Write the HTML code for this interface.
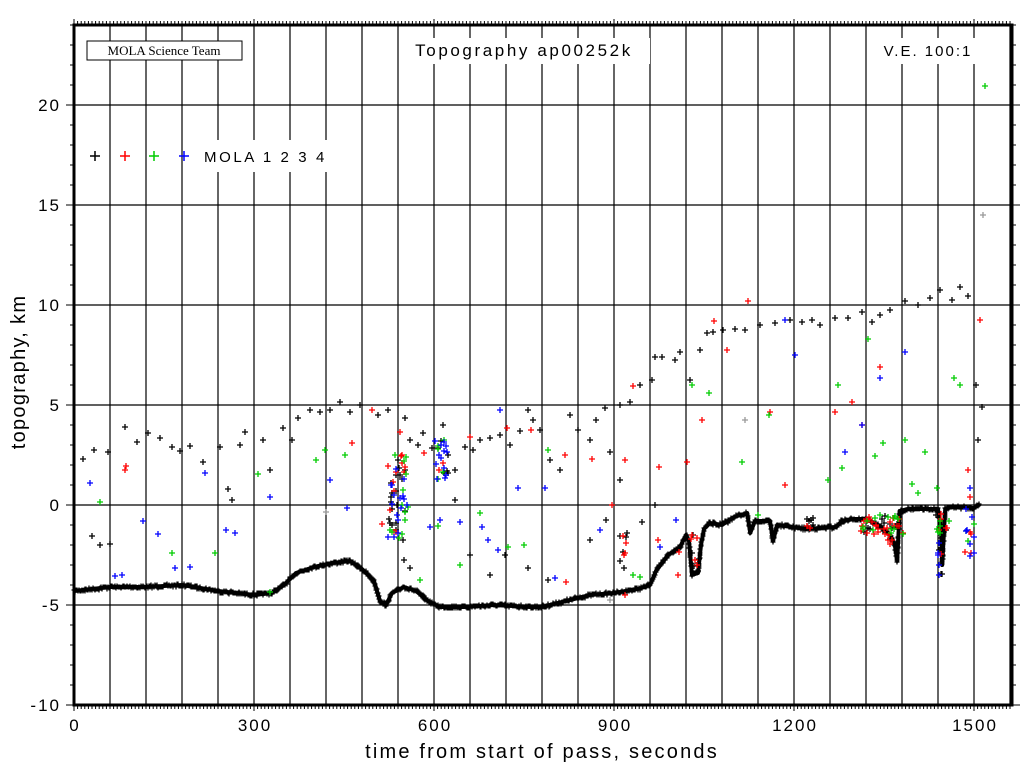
<!DOCTYPE html>
<html><head><meta charset="utf-8"><style>
body{margin:0;background:#fff;}
svg{display:block;font-family:"Liberation Sans",sans-serif;}
</style></head><body>
<svg id="s" width="1024" height="768" xmlns="http://www.w3.org/2000/svg">
<rect width="1024" height="768" fill="#fff"/>
<g id="grid" stroke="#000" stroke-width="1.2"></g>
<g id="prof"></g>
<g id="pts" stroke-width="1.3"></g>
<rect x="87" y="41" width="155" height="19" fill="#fff" stroke="#000" stroke-width="1"/>
<text x="164" y="55" font-family="Liberation Serif,serif" font-size="13" text-anchor="middle">MOLA Science Team</text>
<rect x="400" y="38" width="250" height="26" fill="#fff"/>
<text x="524" y="56" font-size="17" text-anchor="middle" letter-spacing="2.6">Topography ap00252k</text>
<rect x="878" y="38" width="100" height="26" fill="#fff"/>
<text x="928" y="56" font-size="15" text-anchor="middle" letter-spacing="2">V.E. 100:1</text>
<rect x="195" y="140" width="140" height="32" fill="#fff"/>
<g stroke-width="1.5">
<path d="M90 156h10M95 151v10" stroke="#000"/>
<path d="M120 156h10M125 151v10" stroke="#f00"/>
<path d="M149 156h10M154 151v10" stroke="#0c0"/>
<path d="M179 156h10M184 151v10" stroke="#00f"/>
</g>
<text x="204" y="162" font-size="15" letter-spacing="2.6">MOLA 1 2 3 4</text>
<g id="axes" stroke="#000" fill="none"></g>
<g id="lab" font-size="17" letter-spacing="2"></g>
<text x="542" y="758" font-size="20" text-anchor="middle" letter-spacing="2.2">time from start of pass, seconds</text>
<text transform="translate(25,372) rotate(-90)" font-size="20" text-anchor="middle" letter-spacing="1.3">topography, km</text>
</svg>
<script>
const NS="http://www.w3.org/2000/svg";
function X(t){return 74+0.6*t} function Y(h){return 505-20*h}
function el(p,tag,a,txt){const e=document.createElementNS(NS,tag);for(const k in a)e.setAttribute(k,a[k]);if(txt!==undefined)e.textContent=txt;document.getElementById(p).appendChild(e);return e;}
let g="";
for(let t=60;t<1563;t+=60){g+=`M${X(t)} 25V705`;}
for(let h=-5;h<=20;h+=5){g+=`M74 ${Y(h)}H1012`;}
el("grid","path",{d:g,fill:"none"});
let a="M74 25H1012V705H74Z";
el("axes","path",{d:a,"stroke-width":"3"});
let tk="";
for(let t=0;t<1563;t+=6){const l=(t%300==0)?6:4;tk+=`M${X(t)} 25v-${l}M${X(t)} 705v${l}`;}
for(let h=-10;h<=24;h++){const l=(h%5==0)?8:4;tk+=`M74 ${Y(h)}h-${l}M1012 ${Y(h)}h${l}`;}
el("axes","path",{d:tk,"stroke-width":"1"});
for(let t=0;t<=1500;t+=300)el("lab","text",{x:X(t)+1,y:731,"text-anchor":"middle"},t);
for(let h=-10;h<=20;h+=5)el("lab","text",{x:61,y:Y(h)+6,"text-anchor":"end"},h);
const P=[[0,-4.3],[60,-4.1],[120,-4.1],[180,-4.0],[240,-4.3],[270,-4.4],[300,-4.5],[330,-4.4],[350,-4.0],[370,-3.4],[400,-3.1],[430,-2.9],[460,-2.8],[480,-3.2],[500,-3.8],[510,-4.8],[520,-5.0],[530,-4.4],[550,-4.1],[570,-4.3],[590,-4.8],[610,-5.1],[650,-5.1],[700,-5.0],[760,-5.1],[780,-5.1],[820,-4.8],[860,-4.5],[900,-4.4],[940,-4.2],[960,-4.0],[970,-3.3],[990,-2.5],[1010,-2.1],[1020,-1.5],[1025,-1.8],[1030,-3.5],[1040,-3.4],[1045,-2.0],[1050,-1.2],[1060,-0.9],[1080,-1.0],[1100,-0.6],[1122,-0.4],[1127,-1.4],[1135,-0.8],[1160,-0.8],[1165,-1.8],[1172,-1.0],[1220,-1.2],[1270,-1.1],[1280,-0.8],[1300,-0.7],[1320,-0.7],[1340,-1.0],[1360,-1.5],[1368,-2.0],[1372,-2.8],[1376,-0.3],[1390,-0.2],[1440,-0.2],[1445,-1.2],[1447,-3.0],[1452,-0.2],[1460,-0.1],[1500,-0.15],[1510,0.05]];
el("prof","polyline",{points:P.map(p=>X(p[0])+","+Y(p[1])).join(" "),fill:"none",stroke:"#000","stroke-width":"4","stroke-linejoin":"round"});
const C={k:"#000",r:"#f00",g:"#0c0",b:"#00f",y:"#999"};
let pd={k:"",r:"",g:"",b:"",y:""};
function cr(c,x,y,s){s=s||3;pd[c]+=`M${x-s} ${y}h${2*s}M${x} ${y-s}v${2*s}`;}
let seed=7;function R(){seed=(seed*16807)%2147483647;return seed/2147483647;}
// texture along profile
for(let i=0;i<P.length-1;i++){const [t0,h0]=P[i],[t1,h1]=P[i+1];const n=Math.max(2,Math.round((t1-t0)/1.5)+Math.round(Math.abs(h1-h0)*6));for(let j=0;j<n;j++){const f=j/n;cr("k",Math.round(X(t0+(t1-t0)*f)),Math.round(Y(h0+(h1-h0)*f)+(R()-0.5)*3),2.5);}}
const S={k:[[83,459],[94,450],[92,536],[100,545],[110,544],[108,452],[125,427],[137,442],[148,433],[160,438],[172,447],[180,451],[190,446],[203,462],[220,447],[228,489],[232,500],[245,432],[240,445],[263,440],[270,470],[283,428],[292,440],[298,418],[310,410],[320,412],[330,410],[340,402],[350,412],[360,405],[378,415],[388,410],[396,475],[405,418],[410,440],[418,445],[423,433],[432,448],[443,425],[448,455],[455,470],[465,447],[473,450],[480,440],[490,438],[500,435],[510,445],[520,431],[528,410],[533,420],[540,430],[550,460],[560,470],[570,415],[578,430],[590,440],[596,420],[605,408],[620,405],[630,402],[640,385],[652,380],[655,357],[662,357],[675,360],[680,352],[690,380],[700,350],[707,333],[713,332],[723,330],[735,329],[745,330],[760,325],[775,323],[790,320],[802,322],[812,320],[820,325],[835,318],[848,318],[862,312],[872,322],[880,315],[890,310],[905,301],[918,305],[930,298],[940,290],[952,300],[960,287],[968,296],[976,385],[978,440],[982,407],[396,530],[404,560],[410,568],[455,500],[470,555],[490,575],[505,555],[528,568],[548,580],[590,540],[606,520],[642,522],[655,505],[610,452],[620,480]],
r:[[126,466],[125,470],[372,410],[352,443],[382,524],[390,510],[400,432],[424,453],[470,437],[507,428],[531,430],[565,455],[566,582],[592,459],[625,460],[633,386],[659,467],[679,552],[687,462],[702,420],[714,321],[727,350],[748,301],[770,412],[785,485],[835,412],[852,402],[862,425],[880,367],[980,320],[970,497],[968,470],[612,505],[658,540],[678,575],[695,560],[625,595]],
g:[[100,502],[172,553],[215,553],[258,474],[270,592],[316,460],[325,450],[345,455],[395,455],[405,520],[420,580],[438,526],[460,565],[480,513],[508,547],[524,545],[548,450],[640,577],[692,385],[709,393],[742,462],[758,515],[769,415],[828,480],[838,385],[842,468],[868,339],[875,456],[883,443],[905,440],[912,484],[918,493],[925,452],[937,488],[954,378],[985,86],[960,385],[633,575],[640,577]],
b:[[90,483],[115,576],[122,575],[143,521],[158,534],[175,568],[190,567],[205,473],[226,530],[235,533],[270,497],[330,480],[347,508],[398,520],[430,527],[440,520],[460,522],[482,527],[488,540],[498,550],[500,410],[518,488],[545,488],[555,578],[600,530],[660,547],[676,520],[785,320],[795,355],[845,452],[862,425],[880,378],[905,352],[970,488]],
y:[[983,215],[326,512],[610,600],[745,420]]};
for(const c in S)for(const p of S[c])cr(c,p[0],p[1]);
function cluster(x0,x1,y0,y1,n,cols){for(let i=0;i<n;i++)cr(cols[Math.floor(R()*cols.length)],Math.round(x0+R()*(x1-x0)),Math.round(y0+R()*(y1-y0)));}
cluster(388,408,455,540,55,"kbbrgk");
cluster(435,448,438,480,25,"kbrgb");
cluster(860,905,515,535,40,"rrkg");
cluster(880,900,515,545,15,"rk");
cluster(805,815,515,530,8,"rk");
cluster(930,950,512,535,12,"rkg");
cluster(965,975,505,560,15,"rgb");
cluster(938,942,520,575,10,"rgkb");
cluster(620,628,530,570,10,"rk");
cluster(690,700,535,575,10,"kr");
for(const c in pd)el("pts","path",{d:pd[c],stroke:C[c],fill:"none"});
</script>
</body></html>
